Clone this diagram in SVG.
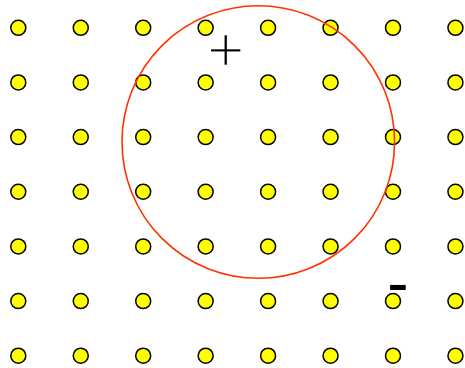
<svg xmlns="http://www.w3.org/2000/svg" xmlns:xlink="http://www.w3.org/1999/xlink" width="465" height="368" viewBox="0 0 465 368">
<style>
.dot{fill:#ffff00;stroke:#000;stroke-width:1.5}
.ring{fill:none;stroke:#ff3300;stroke-width:1.6}
.sign{font-family:"Liberation Sans",Arial,sans-serif;fill:#000;text-anchor:middle}
</style>
<defs><circle id="d" r="7.5" class="dot"/></defs>
<rect width="465" height="368" fill="#fff"/>
<g id="grid">
<g id="row1"><use xlink:href="#d" x="18.3" y="27.8"/><use xlink:href="#d" x="80.75" y="27.8"/><use xlink:href="#d" x="143.2" y="27.8"/><use xlink:href="#d" x="205.65" y="27.8"/><use xlink:href="#d" x="268.1" y="27.8"/><use xlink:href="#d" x="330.55" y="27.8"/><use xlink:href="#d" x="393" y="27.8"/><use xlink:href="#d" x="455.45" y="27.8"/></g>
<g id="row2"><use xlink:href="#d" x="18.3" y="82.45"/><use xlink:href="#d" x="80.75" y="82.45"/><use xlink:href="#d" x="143.2" y="82.45"/><use xlink:href="#d" x="205.65" y="82.45"/><use xlink:href="#d" x="268.1" y="82.45"/><use xlink:href="#d" x="330.55" y="82.45"/><use xlink:href="#d" x="393" y="82.45"/><use xlink:href="#d" x="455.45" y="82.45"/></g>
<g id="row3"><use xlink:href="#d" x="18.3" y="137.1"/><use xlink:href="#d" x="80.75" y="137.1"/><use xlink:href="#d" x="143.2" y="137.1"/><use xlink:href="#d" x="205.65" y="137.1"/><use xlink:href="#d" x="268.1" y="137.1"/><use xlink:href="#d" x="330.55" y="137.1"/><use xlink:href="#d" x="393" y="137.1"/><use xlink:href="#d" x="455.45" y="137.1"/></g>
<g id="row4"><use xlink:href="#d" x="18.3" y="191.75"/><use xlink:href="#d" x="80.75" y="191.75"/><use xlink:href="#d" x="143.2" y="191.75"/><use xlink:href="#d" x="205.65" y="191.75"/><use xlink:href="#d" x="268.1" y="191.75"/><use xlink:href="#d" x="330.55" y="191.75"/><use xlink:href="#d" x="393" y="191.75"/><use xlink:href="#d" x="455.45" y="191.75"/></g>
<g id="row5"><use xlink:href="#d" x="18.3" y="246.4"/><use xlink:href="#d" x="80.75" y="246.4"/><use xlink:href="#d" x="143.2" y="246.4"/><use xlink:href="#d" x="205.65" y="246.4"/><use xlink:href="#d" x="268.1" y="246.4"/><use xlink:href="#d" x="330.55" y="246.4"/><use xlink:href="#d" x="393" y="246.4"/><use xlink:href="#d" x="455.45" y="246.4"/></g>
<g id="row6"><use xlink:href="#d" x="18.3" y="301.05"/><use xlink:href="#d" x="80.75" y="301.05"/><use xlink:href="#d" x="143.2" y="301.05"/><use xlink:href="#d" x="205.65" y="301.05"/><use xlink:href="#d" x="268.1" y="301.05"/><use xlink:href="#d" x="330.55" y="301.05"/><use xlink:href="#d" x="393" y="301.05"/><use xlink:href="#d" x="455.45" y="301.05"/></g>
<g id="row7"><use xlink:href="#d" x="18.3" y="355.7"/><use xlink:href="#d" x="80.75" y="355.7"/><use xlink:href="#d" x="143.2" y="355.7"/><use xlink:href="#d" x="205.65" y="355.7"/><use xlink:href="#d" x="268.1" y="355.7"/><use xlink:href="#d" x="330.55" y="355.7"/><use xlink:href="#d" x="393" y="355.7"/><use xlink:href="#d" x="455.45" y="355.7"/></g>
</g>
<g id="ring"><circle class="ring" cx="258.3" cy="142" r="136.3"/></g>
<g id="plus"><text class="sign" x="225.7" y="72.1" font-size="65" stroke="#fff" stroke-width="2.3">+</text></g>
<g id="minus"><text class="sign" x="398" y="304.5" font-size="64">-</text></g>
</svg>
